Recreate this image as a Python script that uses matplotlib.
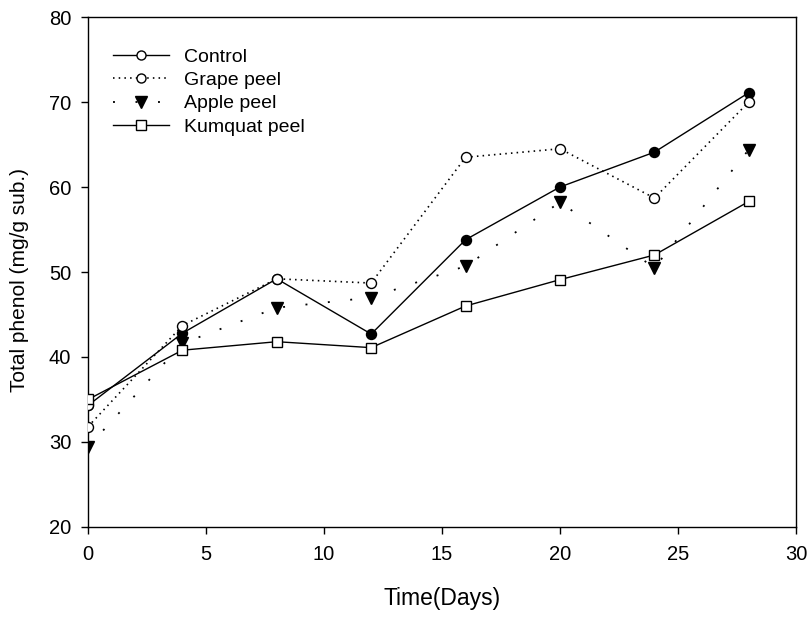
import matplotlib
matplotlib.use("Agg")
import matplotlib.pyplot as plt
from matplotlib.lines import Line2D

plt.rcParams['font.family'] = ['Liberation Sans', 'DejaVu Sans']
plt.rcParams['lines.scale_dashes'] = False

days = [0, 4, 8, 12, 16, 20, 24, 28]
control = [34.3, 42.8, 49.2, 42.7, 53.8, 60.0, 64.1, 71.1]
grape = [31.8, 43.7, 49.2, 48.7, 63.5, 64.5, 58.7, 70.0]
apple = [29.4, 41.6, 45.8, 47.0, 50.7, 58.2, 50.5, 64.4]
kumquat = [35.0, 40.8, 41.8, 41.1, 46.0, 49.1, 52.0, 58.3]
labels = ["Control", "Grape peel", "Apple peel", "Kumquat peel"]

fig = plt.figure(figsize=(8.11, 6.17), dpi=100)
ax = fig.add_axes([0.1085, 0.1459, 0.8730, 0.8265])

ax.plot(days, control, color='black', lw=1.0, marker='o', ms=7.2,
        mfc='black', mec='black', mew=1.0, zorder=3)
ax.plot(days[:1], control[:1], ls='none', marker='o', ms=7.2,
        mfc='white', mec='black', mew=1.0, zorder=3)
ax.plot(days, grape, color='black', lw=1.2, ls=(0, (1.1, 3.0)), marker='o',
        ms=7.2, mfc='white', mec='black', mew=1.0, zorder=4)
ax.plot(days, apple, color='black', lw=1.3, ls=(0, (1.4, 14.8)), marker='v',
        ms=8.5, mfc='black', mec='black', zorder=3)
ax.plot(days, kumquat, color='black', lw=1.0, marker='s', ms=7.5,
        mfc='white', mec='black', mew=1.0, zorder=5)

handles = [
    Line2D([], [], color='black', lw=1.0, marker='o', ms=6.5, mfc='white', mec='black'),
    Line2D([], [], color='black', lw=1.2, ls=(0, (1.1, 3.0)), marker='o', ms=6.5, mfc='white', mec='black'),
    Line2D([], [], color='black', lw=1.3, ls=(0, (1.4, 14.8)), marker='v', ms=8, mfc='black', mec='black'),
    Line2D([], [], color='black', lw=1.0, marker='s', ms=7, mfc='white', mec='black'),
]
ax.legend(handles, labels, loc='upper left', bbox_to_anchor=(0.01, 0.973),
          frameon=False, fontsize=14, handlelength=2.9, labelspacing=0.29,
          handletextpad=0.75)

ax.set_xlim(0, 30)
ax.set_ylim(20, 80)
ax.set_xticks([0, 5, 10, 15, 20, 25, 30])
ax.set_yticks([20, 30, 40, 50, 60, 70, 80])
ax.tick_params(direction='out', length=5, width=1, labelsize=14.5, top=False, right=False)
ax.tick_params(axis='y', pad=7)
ax.tick_params(axis='x', pad=8)
for s in ax.spines.values():
    s.set_linewidth(1.0)
ax.set_xlabel("Time(Days)", fontsize=16.5)
ax.set_ylabel("Total phenol (mg/g sub.)", fontsize=15)
ax.xaxis.set_label_coords(0.5, -0.118)
ax.yaxis.set_label_coords(-0.084, 0.485)

fig.savefig("out.png", dpi=100)
